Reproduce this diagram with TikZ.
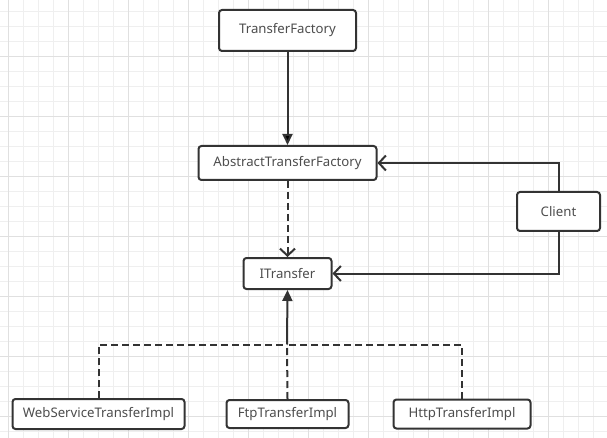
\documentclass[tikz,border=0pt]{standalone}
\usepackage{fontspec}
\setmainfont{Noto Sans}
\usetikzlibrary{arrows.meta,positioning}
\definecolor{linecol}{HTML}{333333}
\definecolor{textcol}{HTML}{4D4D4D}
\definecolor{gridminor}{HTML}{EFEFEF}
\definecolor{gridmajor}{HTML}{E0E0E0}
\tikzset{
  classbox/.style={draw=linecol, line width=2pt, rounded corners=3pt, fill=white,
    text=textcol, inner sep=0pt, font=\fontsize{13.2}{16}\selectfont},
  conn/.style={draw=linecol, line width=2pt},
  dashconn/.style={conn, dash pattern=on 7pt off 4pt},
  solidtip/.style={-{Triangle[length=11pt,width=10pt]}},
  opentip/.style={-{Straight Barb[length=7pt,width=15pt,line width=2pt]}},
}
\begin{document}
\begin{tikzpicture}[x=1pt, y=-1pt, node distance=1pt]
    \useasboundingbox (0,0) rectangle (607,438);
    \fill[white] (0,0) rectangle (607,438);
    % grid
    \foreach \i in {0,...,39}
      \draw[gridminor, line width=1pt] ({8.3+15*\i},0) -- ({8.3+15*\i},438);
    \foreach \j in {0,...,28}
      \draw[gridminor, line width=1pt] (0,{11.7+15*\j}) -- (607,{11.7+15*\j});
    \foreach \i in {0,4,...,36}
      \draw[gridmajor, line width=1pt] ({8.3+15*\i},0) -- ({8.3+15*\i},438);
    \foreach \j in {3,7,...,27}
      \draw[gridmajor, line width=1pt] (0,{11.7+15*\j}) -- (607,{11.7+15*\j});

    % classes
    \node[classbox, minimum width=137pt, minimum height=41pt] (tf) at (287.5,30.5) {TransferFactory};
    \node[classbox, minimum width=178pt, minimum height=34pt] (atf) [below=132.5pt of tf.center, anchor=center] {AbstractTransferFactory};
    \node[classbox, minimum width=88pt, minimum height=31pt] (it) [below=110.5pt of atf.center, anchor=center] {ITransfer};
    \node[classbox, minimum width=83pt, minimum height=39pt] (client) at (558.5,211.5) {Client};
    \node[classbox, minimum width=122pt, minimum height=28pt] (ftp) [below=140.5pt of it.center, anchor=center] {FtpTransferImpl};
    \node[classbox, minimum width=172pt, minimum height=30pt] (ws) [left=189pt of ftp.center, anchor=center] {WebServiceTransferImpl};
    \node[classbox, minimum width=137pt, minimum height=29pt] (http) [right=174.5pt of ftp.center, anchor=center] {HttpTransferImpl};
    \coordinate (join) at (287,344.5);

    % connectors
    \path[conn, solidtip] (tf) edge (atf);
    \path[dashconn, opentip] (atf) edge (it);
    \draw[conn, opentip] (client.north) |- (atf.east);
    \draw[conn, opentip] (client.south) |- (it.east);
    \draw[dashconn] (ws.north) |- (join);
    \draw[dashconn] (http.north) |- (join);
    \draw[dashconn] (ftp.north) -- (join);
    \draw[conn, solidtip] (join) -- (it.south);
  \end{tikzpicture}
\end{document}
